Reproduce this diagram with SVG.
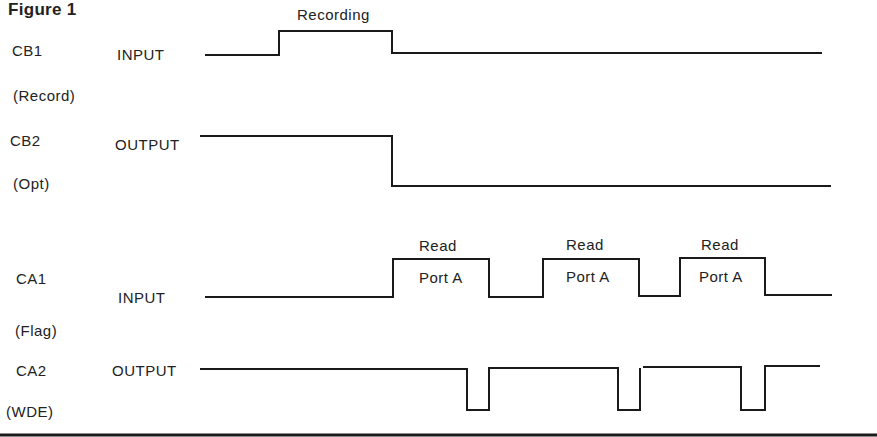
<svg xmlns="http://www.w3.org/2000/svg" width="877" height="437" viewBox="0 0 877 437">
<style>
  text { font-family: "Liberation Sans", Arial, sans-serif; font-size: 15px; fill: #222; letter-spacing: 0.5px; }
  .title { font-weight: bold; font-size: 17px; letter-spacing: 0.3px; }
  .wave { fill: none; stroke: #1a1a1a; stroke-width: 2; stroke-linejoin: miter; }
</style>
<rect width="877" height="437" fill="#ffffff"/>
<text class="title" x="8" y="15">Figure 1</text>

<g id="labels">
  <text x="12" y="56">CB1</text>
  <text x="117" y="60">INPUT</text>
  <text x="13" y="101">(Record)</text>
  <text x="10" y="146">CB2</text>
  <text x="115" y="150">OUTPUT</text>
  <text x="13" y="189">(Opt)</text>
  <text x="16" y="284">CA1</text>
  <text x="118" y="303">INPUT</text>
  <text x="15" y="336">(Flag)</text>
  <text x="16" y="376">CA2</text>
  <text x="112" y="376">OUTPUT</text>
  <text x="6" y="417">(WDE)</text>
</g>

<g id="cb1">
  <path class="wave" d="M205,55 H279 V31 H392 V53 H822"/>
  <text x="297" y="20">Recording</text>
</g>

<g id="cb2">
  <path class="wave" d="M200,136 H392 V186 H831"/>
</g>

<g id="ca1">
  <path class="wave" d="M205,297 H393 V259 H489 V297 H543 V259 H639 V296 H680 V258 H765 V295 H832"/>
  <text x="419" y="251">Read</text>
  <text x="419" y="283">Port A</text>
  <text x="566" y="250">Read</text>
  <text x="566" y="282">Port A</text>
  <text x="701" y="250">Read</text>
  <text x="699" y="282">Port A</text>
</g>

<g id="ca2">
  <path class="wave" d="M200,369 H467 V410 H489 V368 H618 V410 H640 V368"/>
  <path class="wave" d="M643,367 H741 V410 H765 V366 H820"/>
</g>

<g id="connectors">
  <line x1="0" y1="435" x2="877" y2="435" stroke="#1a1a1a" stroke-width="3"/>
</g>
</svg>
